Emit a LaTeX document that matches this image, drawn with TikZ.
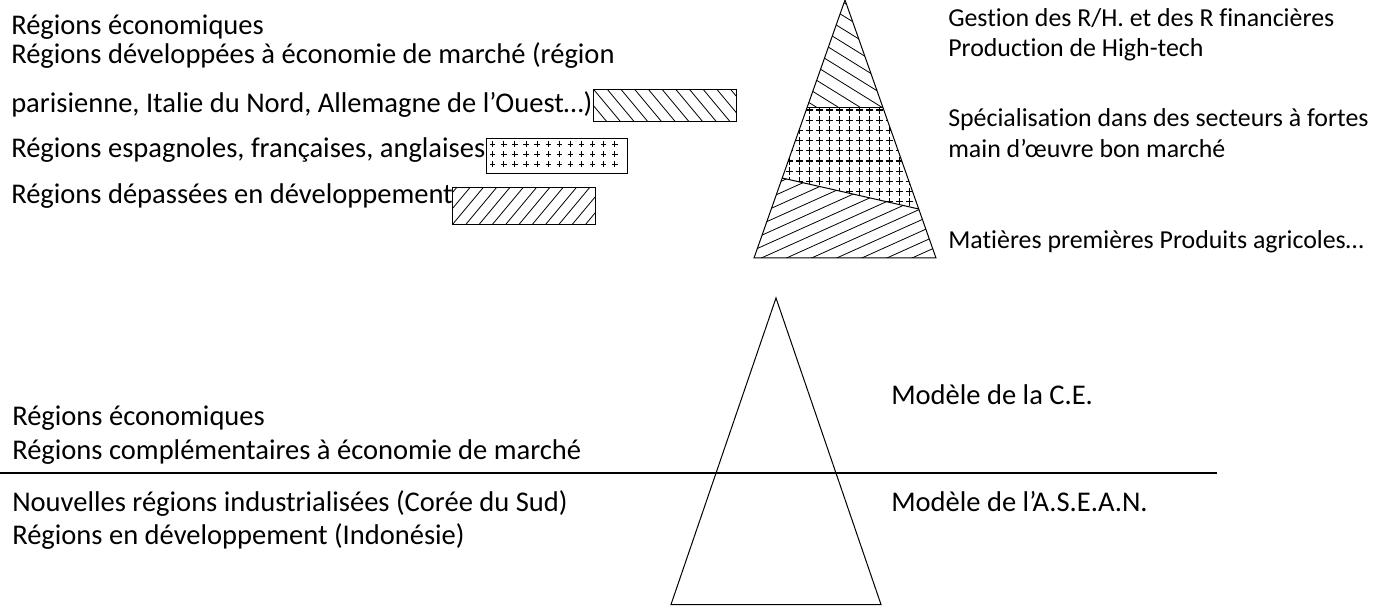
\documentclass[tikz,border=0pt]{standalone}
\usepackage{fontspec}
\setmainfont{Carlito}[Ligatures=NoCommon]
\usetikzlibrary{calc}
\begin{document}
\begin{tikzpicture}[
  x=0.75pt, y=-0.75pt,
  lbl/.style={anchor=base west, inner sep=0pt, font=\fontsize{21.4}{25}\selectfont},
  lblsm/.style={lbl, font=\fontsize{19.4}{23}\selectfont}, % pyramid levels
  edge/.style={line width=0.75pt},
  hatch/.style={line width=0.6pt},
  plus/.style={line width=1pt},
  legbox/.style={draw, line width=0.75pt, inner sep=0pt, outer sep=0pt} % key rectangles
]
\useasboundingbox (0,0) rectangle (1386,606);

% Legend texts (top left)
\node[lbl] (tl1) at (11,35) {Régions économiques};
\node[lbl] (tl2) at (11,64) {Régions développées à économie de marché (région};
\node[lbl] (tl3) at (11,113) {parisienne, Italie du Nord, Allemagne de l’Ouest…)};
\node[lbl] (tl4) at (11,158) {Régions espagnoles, françaises, anglaises};
\node[lbl] (tl5) at (11,204) {Régions dépassées en développement};

% Legend keys
\node[legbox, minimum width=107.5pt, minimum height=24.2pt] (keyA) at (665,105.2) {};
\node[legbox, minimum width=106.3pt, minimum height=26.25pt] (keyB) at (556.9,155.8) {};
\node[legbox, minimum width=107.5pt, minimum height=27.5pt] (keyC) at (524,206.3) {};
\begin{scope}
  \clip (keyA.south west) rectangle (keyA.north east);
  \foreach \k in {-4,...,11} \draw[hatch] ($(keyA.north west)+(13.7*\k,0)$) -- ++(40,48);
\end{scope}
\foreach \i in {0,...,11}
  \foreach \j in {0,1,2}
    \draw[line width=0.7pt] ($(keyB.north west)+(4+11.1*\i,5.7+10.2*\j)$) -- ++(5.4,0)
                ($(keyB.north west)+(6.7+11.1*\i,2.7+10.2*\j)$) -- ++(0,6);
\begin{scope}
  \clip (keyC.south west) rectangle (keyC.north east);
  \foreach \k in {-4,...,11} \draw[hatch] ($(keyC.south west)+(13.3*\k,0)$) -- ++(40,-48);
\end{scope}

% Hatched pyramid
\coordinate (apex) at (845,0);
\coordinate (bl) at (754,258);
\coordinate (br) at (936,258);
\coordinate (l1) at ($(apex)!0.4186!(bl)$);
\coordinate (r1) at ($(apex)!0.4186!(br)$);
\coordinate (l2) at ($(apex)!0.69!(bl)$);
\coordinate (r2) at ($(apex)!0.81!(br)$);
\begin{scope}
  \clip (apex) -- (r1) -- (l1) -- cycle;
  \foreach \k in {-3,...,12} \draw[hatch] (700,-100+13.5*\k) -- ++(300,186);
\end{scope}
\begin{scope}
  \clip (l1) -- (r1) -- (r2) -- (l2) -- cycle;
  \foreach \i in {0,...,14}
    \foreach \j in {0,...,10}
      \draw[plus] (775.8+10*\i,110+10.2*\j) -- ++(7,0)
                  (779.3+10*\i,106+10.2*\j) -- ++(0,8);
\end{scope}
\begin{scope}
  \clip (l2) -- (r2) -- (br) -- (bl) -- cycle;
  \foreach \k in {0,...,22} \draw[hatch] (700,150+11.3*\k) -- ++(300,-135);
\end{scope}
\draw[edge] (apex) -- (br) -- (bl) -- cycle;
\draw[edge] (l1) -- (r1);
\draw[edge] (l2) -- (r2);

% Pyramid levels
\node[lblsm] (tr1) at (948,27) {Gestion des R/H. et des R financières};
\node[lblsm] (tr2) at (948,57) {Production de High-tech};
\node[lblsm] (tr3) at (948,127) {Spécialisation dans des secteurs à fortes};
\node[lblsm] (tr4) at (948,158) {main d’œuvre bon marché};
\node[lblsm] (tr5) at (948,248) {Matières premières Produits agricoles…};

% Lower pyramid
\coordinate (apex2) at (776,298);
\coordinate (bl2) at (671,604.5);
\coordinate (br2) at (881,604.5);
\draw[edge] (apex2) -- (br2) -- (bl2) -- cycle;
\coordinate (sepL) at (0,473);
\coordinate (sepR) at (1217,473);
\draw[line width=1.5pt] (sepL) -- (sepR);

\node[lbl] (bl1) at (12,425) {Régions économiques};
\node[lbl] (bl2t) at (12,459) {Régions complémentaires à économie de marché};
\node[lbl] (bl3) at (12,511) {Nouvelles régions industrialisées (Corée du Sud)};
\node[lbl] (bl4) at (12,544) {Régions en développement (Indonésie)};
\node[lbl] (mod1) at (891,404) {Modèle de la C.E.};
\node[lbl] (mod2) at (891,511) {Modèle de l’A.S.E.A.N.};
\end{tikzpicture}
\end{document}
